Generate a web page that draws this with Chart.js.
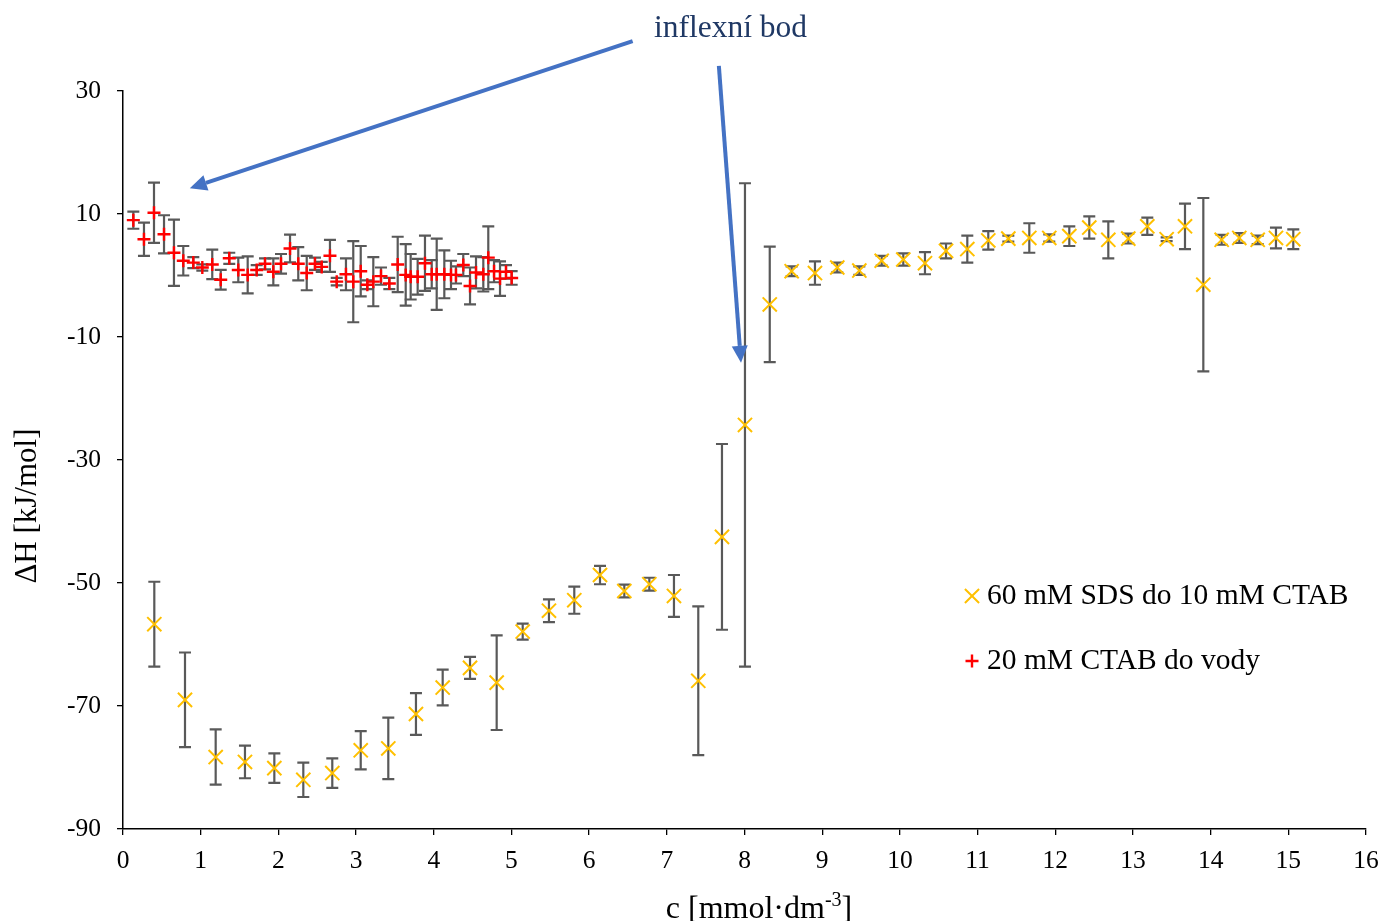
<!DOCTYPE html>
<html><head><meta charset="utf-8">
<script src="https://cdn.jsdelivr.net/npm/chart.js@4.4.1/dist/chart.umd.min.js"></script>
<style>html,body{margin:0;padding:0;background:#fff;}#wrap{width:1384px;height:921px;position:relative}</style>
</head><body><div id="wrap"><canvas id="c" width="1384" height="921"></canvas></div>
<script>
// ---- data ----
const sdsLabel = '60 mM SDS do 10 mM CTAB';
const sdsX = [0.403,0.798,1.193,1.570,1.948,2.321,2.694,3.060,3.415,3.771,4.115,4.467,4.810,5.145,5.483,5.809,6.140,6.453,6.775,7.092,7.405,7.710,8.006,8.325,8.607,8.907,9.194,9.478,9.766,10.044,10.323,10.594,10.868,11.138,11.396,11.666,11.923,12.181,12.438,12.683,12.940,13.185,13.434,13.670,13.906,14.142,14.369,14.606,14.841,15.064];
const sdsY = [-56.7,-69.0,-78.3,-79.1,-80.1,-82.0,-80.9,-77.2,-76.9,-71.3,-67.0,-63.8,-66.2,-57.9,-54.5,-52.8,-48.7,-51.3,-50.2,-52.1,-65.9,-42.5,-24.3,-4.7,0.7,0.4,1.3,0.8,2.4,2.6,2.0,4.0,4.3,5.7,6.0,6.1,6.1,6.4,7.8,5.8,6.0,8.0,5.9,8.0,-1.5,5.8,6.1,5.8,6.1,5.9];
const sdsErr = [6.9,7.7,4.5,2.65,2.4,2.8,2.4,3.1,5.0,3.4,2.9,1.8,7.7,1.3,1.85,2.2,1.5,1.05,1.05,3.4,12.1,15.1,39.3,9.4,0.8,1.9,0.8,0.7,0.8,1.0,1.8,1.2,2.2,1.5,0.5,2.4,0.6,1.6,1.8,3.0,0.8,1.4,0.3,3.7,14.1,0.8,0.8,0.7,1.7,1.6];

const ctabLabel = '20 mM CTAB do vody';
const ctabX = [0.133,0.270,0.399,0.528,0.656,0.776,0.905,1.021,1.149,1.258,1.368,1.484,1.605,1.721,1.828,1.935,2.034,2.150,2.256,2.365,2.471,2.558,2.664,2.751,2.870,2.964,3.060,3.145,3.222,3.321,3.428,3.536,3.639,3.703,3.793,3.887,3.974,4.038,4.136,4.222,4.286,4.380,4.467,4.544,4.638,4.702,4.776,4.853,4.930,5.003];
const ctabY = [9.0,5.9,10.2,6.7,3.7,2.4,2.1,1.3,1.8,-0.7,2.8,0.9,0.1,0.9,1.9,0.6,1.9,4.4,1.9,0.4,1.9,1.4,3.2,-1.0,0.2,-1.0,0.7,-1.5,-1.0,-0.1,-1.3,1.8,0.1,-0.2,-0.2,2.0,0.2,0.2,0.2,0.1,0.1,1.7,-1.7,0.5,0.2,2.9,0.7,-0.5,0.6,-0.4];
const ctabErr = [1.4,2.7,4.9,3.1,5.4,2.4,0.9,0.5,2.4,1.6,0.9,2.0,3.0,0.8,0.9,2.2,1.6,2.25,2.7,2.8,1.0,0.8,2.6,0.6,2.6,6.6,4.1,0.7,4.0,1.4,0.9,4.5,5.0,3.7,2.9,4.5,2.3,5.8,3.9,2.3,1.4,1.8,3.0,2.6,2.8,5.1,1.8,2.8,1.1,1.1];

const xMin = 0, xMax = 16, xStep = 1;
const yMin = -90, yMax = 30, yStep = 20;
const xTitleMain = 'c [mmol·dm';
const xTitleSup = '-3';
const xTitleEnd = ']';
const yTitle = 'ΔH [kJ/mol]';
const annoText = 'inflexní bod';
// arrows in data coordinates: [fromX, fromY, toX, toY]
const arrows = [[6.56, 38.1, 0.86, 14.2], [7.67, 34.1, 7.955, -14.2]];
const annoPos = [7.82, 40.2];

// ---- chart ----
const FONT = '"Liberation Serif", "Times New Roman", serif';
const errColor = '#595959';

function toPts(xs, ys){ return xs.map((x,i)=>({x:x, y:ys[i]})); }

const errorBars = {
  id:'errorBars',
  beforeDatasetsDraw(chart){
    const ctx = chart.ctx, xs = chart.scales.x, ys = chart.scales.y;
    const sets = [[sdsX, sdsY, sdsErr],[ctabX, ctabY, ctabErr]];
    ctx.save();
    ctx.strokeStyle = errColor;
    ctx.lineWidth = 2.2;
    ctx.lineCap = 'butt';
    const cap = 6;
    sets.forEach(([X,Y,E])=>{
      X.forEach((x,i)=>{
        const px = xs.getPixelForValue(x);
        const top = ys.getPixelForValue(Y[i]+E[i]);
        const bot = ys.getPixelForValue(Y[i]-E[i]);
        ctx.beginPath();
        ctx.moveTo(px, top); ctx.lineTo(px, bot);
        ctx.moveTo(px-cap, top); ctx.lineTo(px+cap, top);
        ctx.moveTo(px-cap, bot); ctx.lineTo(px+cap, bot);
        ctx.stroke();
      });
    });
    ctx.restore();
  }
};

function drawArrow(ctx, x1, y1, x2, y2){
  const ang = Math.atan2(y2-y1, x2-x1);
  const hl = 17, hw = 8;
  const bx = x2 - hl*Math.cos(ang), by = y2 - hl*Math.sin(ang);
  ctx.beginPath();
  ctx.moveTo(x1,y1); ctx.lineTo(bx,by);
  ctx.stroke();
  ctx.beginPath();
  ctx.moveTo(x2,y2);
  ctx.lineTo(bx + hw*Math.sin(ang), by - hw*Math.cos(ang));
  ctx.lineTo(bx - hw*Math.sin(ang), by + hw*Math.cos(ang));
  ctx.closePath();
  ctx.fill();
}

const decorations = {
  id:'decorations',
  afterDraw(chart){
    const ctx = chart.ctx, xs = chart.scales.x, ys = chart.scales.y;
    ctx.save();
    // arrows
    ctx.strokeStyle = '#4472C4'; ctx.fillStyle = '#4472C4'; ctx.lineWidth = 4;
    arrows.forEach(a=>drawArrow(ctx, xs.getPixelForValue(a[0]), ys.getPixelForValue(a[1]), xs.getPixelForValue(a[2]), ys.getPixelForValue(a[3])));
    // annotation text
    ctx.fillStyle = '#1F3864'; ctx.font = '31.5px ' + FONT; ctx.textAlign='center'; ctx.textBaseline='middle';
    ctx.fillText(annoText, xs.getPixelForValue(annoPos[0]), ys.getPixelForValue(annoPos[1]));
    // y title
    ctx.fillStyle = '#000'; ctx.font = '31px ' + FONT;
    ctx.save(); ctx.translate(28, 506); ctx.rotate(-Math.PI/2);
    ctx.textAlign='center'; ctx.textBaseline='middle'; ctx.fillText(yTitle,0,0); ctx.restore();
    // x title with superscript
    ctx.textBaseline='alphabetic'; ctx.textAlign='left';
    const mainFont = '32px ' + FONT, supFont = '20px ' + FONT;
    ctx.font = mainFont; const w1 = ctx.measureText(xTitleMain).width; const w3 = ctx.measureText(xTitleEnd).width;
    ctx.font = supFont; const w2 = ctx.measureText(xTitleSup).width;
    let x0 = 759 - (w1+w2+w3)/2; const base = 918;
    ctx.font = mainFont; ctx.fillText(xTitleMain, x0, base);
    ctx.font = supFont; ctx.fillText(xTitleSup, x0+w1, base-12);
    ctx.font = mainFont; ctx.fillText(xTitleEnd, x0+w1+w2, base);
    // legend
    const items = [[chart.data.datasets[0], 596],[chart.data.datasets[1], 661]];
    items.forEach(([ds,y])=>{
      ctx.save();
      ctx.strokeStyle = ds.borderColor; ctx.fillStyle = ds.borderColor; ctx.lineWidth = ds.borderWidth;
      Chart.helpers.drawPoint(ctx, {pointStyle: ds.pointStyle, rotation:0, radius: ds.pointRadius, borderWidth: ds.borderWidth}, 972, y);
      ctx.restore();
      ctx.fillStyle = '#000'; ctx.font = '29.5px ' + FONT; ctx.textAlign='left'; ctx.textBaseline='middle';
      ctx.fillText(ds.label, 987, y);
    });
    ctx.restore();
  }
};

new Chart(document.getElementById('c'), {
  type:'scatter',
  data:{
    datasets:[
      {label: sdsLabel, data: toPts(sdsX, sdsY), pointStyle:'crossRot', pointRadius:10, pointHoverRadius:10, borderColor:'#FFC000', backgroundColor:'#FFC000', borderWidth:2, showLine:false},
      {label: ctabLabel, data: toPts(ctabX, ctabY), pointStyle:'cross', pointRadius:6.5, pointHoverRadius:6.5, borderColor:'#FF0000', backgroundColor:'#FF0000', borderWidth:2.4, showLine:false}
    ]
  },
  options:{
    responsive:false,
    animation:false,
    devicePixelRatio:1,
    layout:{padding:{top:91, right:18, left:0, bottom:0}},
    plugins:{legend:{display:false}, tooltip:{enabled:false}},
    scales:{
      x:{
        type:'linear', min:xMin, max:xMax,
        ticks:{stepSize:xStep, color:'#000', font:{family:FONT, size:25.5}, padding:11, maxRotation:0},
        grid:{display:true, drawOnChartArea:false, drawTicks:true, tickLength:6, color:'#000', lineWidth:1.3},
        border:{display:true, color:'#000', width:1.5},
        afterFit(s){ s.height = 92; s.paddingRight = 0; s.paddingLeft = 0; }
      },
      y:{
        type:'linear', min:yMin, max:yMax,
        ticks:{stepSize:yStep, color:'#000', font:{family:FONT, size:25.5}, padding:16},
        grid:{display:true, drawOnChartArea:false, drawTicks:true, tickLength:6, color:'#000', lineWidth:1.3},
        border:{display:true, color:'#000', width:1.5},
        afterFit(s){ s.width = 123; }
      }
    }
  },
  plugins:[errorBars, decorations]
});
</script>
</body></html>
